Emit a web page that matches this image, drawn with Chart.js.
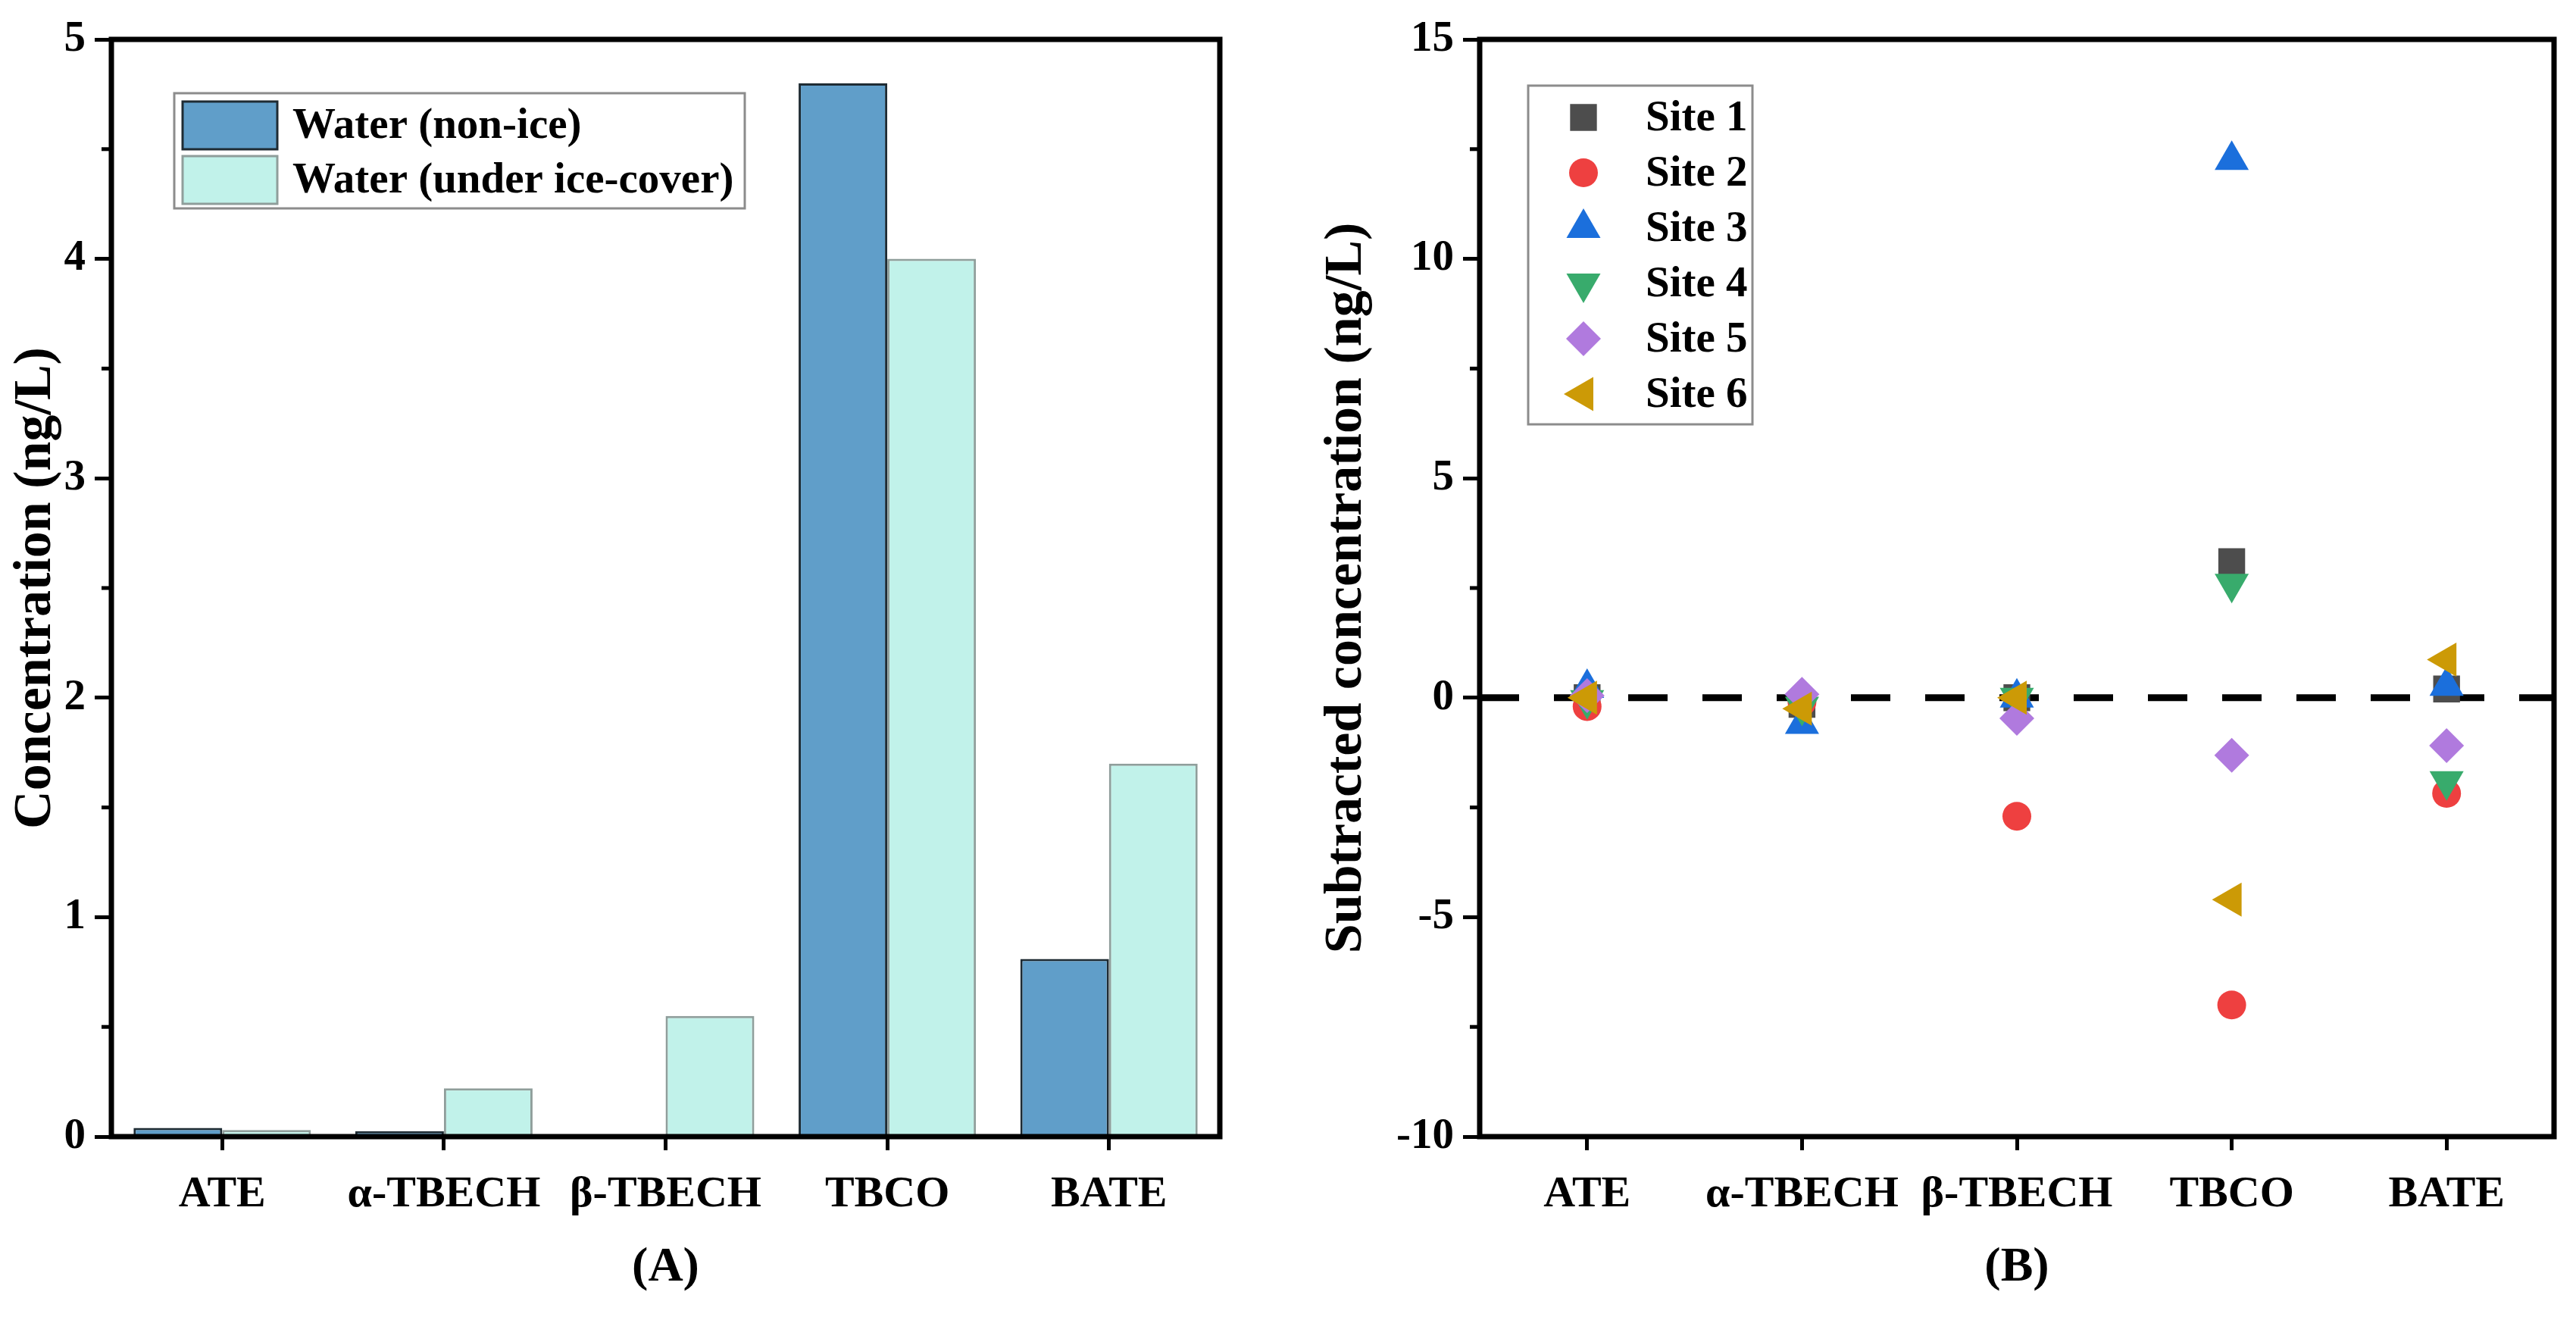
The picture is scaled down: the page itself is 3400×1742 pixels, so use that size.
<!DOCTYPE html>
<html>
<head>
<meta charset="utf-8">
<title>Concentration under ice-cover</title>
<script src="https://cdn.jsdelivr.net/npm/chart.js"></script>
<style>
  html, body { margin: 0; padding: 0; background: #fff; }
  .wrap { position: relative; width: 3400px; height: 1742px; }
  canvas { position: absolute; top: 0; }
  #chartA { left: 0; }
  #chartB { left: 1700px; }
</style>
</head>
<body>
<div class="wrap">
  <canvas id="chartA" width="1700" height="1742"></canvas>
  <canvas id="chartB" width="1700" height="1742"></canvas>
</div>
<script>
// categories
const compounds = ["ATE", "α-TBECH", "β-TBECH", "TBCO", "BATE"];

// panel A, ng/L
const waterNonIce = [0.04, 0.025, 0, 4.8, 0.81];
const waterUnderIce = [0.03, 0.22, 0.55, 4.0, 1.7];

// panel B, subtracted concentration ng/L
const site1 = [0, -0.15, 0, 3.1, 0.2];
const site2 = [-0.2, -0.1, -2.7, -7.0, -2.18];
const site3 = [0.22, -0.6, 0, 12.25, 0.27];
const site4 = [-0.05, -0.2, 0, 2.6, -1.9];
const site5 = [0.05, 0.08, -0.47, -1.31, -1.09];
const site6 = [0, -0.25, 0, -4.6, 0.87];

const FONT = '"Liberation Serif", "Times New Roman", serif';
Chart.defaults.font.family = FONT;
Chart.defaults.font.weight = "bold";
Chart.defaults.color = "#000";

// shapes for the hand drawn legend of panel B
function drawMarker(ctx, shape, rot, r, x, y) {
  ctx.save();
  ctx.translate(x, y);
  ctx.rotate(rot * Math.PI / 180);
  ctx.beginPath();
  if (shape === "circle") {
    ctx.arc(0, 0, r, 0, Math.PI * 2);
  } else if (shape === "rect") {
    const s = r * Math.SQRT1_2;
    ctx.rect(-s, -s, 2 * s, 2 * s);
  } else if (shape === "rectRot") {
    ctx.moveTo(0, -r); ctx.lineTo(r, 0); ctx.lineTo(0, r); ctx.lineTo(-r, 0);
  } else {
    ctx.moveTo(0, -r);
    ctx.lineTo(r * Math.sin(Math.PI / 3), r / 2);
    ctx.lineTo(-r * Math.sin(Math.PI / 3), r / 2);
  }
  ctx.closePath();
  ctx.fill();
  ctx.restore();
}

function frameAndMinor(chart, minorStep, majorStep) {
  const { ctx, chartArea: a } = chart;
  const y = chart.scales.y;
  ctx.save();
  ctx.strokeStyle = "#000";
  ctx.lineWidth = 5;
  for (let v = y.min + minorStep; v < y.max; v += majorStep) {
    const py = y.getPixelForValue(v);
    ctx.beginPath();
    ctx.moveTo(a.left, py);
    ctx.lineTo(a.left - 13, py);
    ctx.stroke();
  }
  ctx.lineWidth = 7;
  ctx.strokeRect(a.left, a.top, a.right - a.left, a.bottom - a.top);
  ctx.restore();
}

function axisStyle(min, max, step, titleText, titlePad) {
  return {
    min, max,
    border: { display: false },
    grid: { drawOnChartArea: false, drawTicks: true, tickLength: 22, tickWidth: 5, tickColor: "#000" },
    ticks: { stepSize: step, padding: 12, font: { size: 57 } },
    title: { display: true, text: titleText, font: { size: 70 }, padding: { top: titlePad } }
  };
}

function xStyle(titleText) {
  return {
    offset: true,
    border: { display: false },
    grid: { offset: false, drawOnChartArea: false, tickLength: 18, tickWidth: 5, tickColor: "#000" },
    ticks: { padding: 24, font: { size: 58 }, maxRotation: 0 },
    title: { display: true, text: titleText, font: { size: 64 }, padding: { bottom: 30 } },
    afterFit: (s) => { s.height = 242; }
  };
}

// ---------- panel A ----------
const yA = axisStyle(0, 5, 1, "Concentration (ng/L)", 6);
yA.afterFit = (s) => { s.width = 147; };

const legendA = {
  id: "legendA",
  afterDraw(chart) {
    const ctx = chart.ctx;
    ctx.save();
    ctx.strokeStyle = "#8c8c8c";
    ctx.lineWidth = 3;
    ctx.strokeRect(230, 123, 753, 152);
    chart.data.datasets.forEach((ds, i) => {
      const top = 134 + i * 72;
      ctx.fillStyle = ds.backgroundColor;
      ctx.fillRect(241, top, 125, 63);
      ctx.strokeStyle = ds.borderColor;
      ctx.lineWidth = 3;
      ctx.strokeRect(241, top, 125, 63);
      ctx.fillStyle = "#000";
      ctx.font = "bold 57px " + FONT;
      ctx.textBaseline = "middle";
      ctx.fillText(ds.label, 386, top + 33);
    });
    ctx.restore();
    frameAndMinor(chart, 0.5, 1);
  }
};

new Chart(document.getElementById("chartA"), {
  type: "bar",
  data: {
    labels: compounds,
    datasets: [
      { label: "Water (non-ice)", data: waterNonIce, backgroundColor: "#609ec9", borderColor: "#1e2b33", borderWidth: 3 },
      { label: "Water (under ice-cover)", data: waterUnderIce, backgroundColor: "#c1f2ea", borderColor: "#8f9e9b", borderWidth: 3 }
    ]
  },
  options: {
    responsive: false,
    devicePixelRatio: 1,
    animation: false,
    layout: { padding: { top: 52, right: 90, left: 0, bottom: 0 } },
    datasets: { bar: { categoryPercentage: 0.8, barPercentage: 1.0 } },
    plugins: { legend: { display: false }, tooltip: { enabled: false } },
    scales: { x: xStyle("(A)"), y: yA }
  },
  plugins: [legendA]
});

// ---------- panel B ----------
const yB = axisStyle(-10, 15, 5, "Subtracted concentration (ng/L)", 36);
yB.afterFit = (s) => { s.width = 253; };

const siteStyles = [
  { color: "#4d4d4d", shape: "rect", rot: 0, r: 25 },
  { color: "#ee4040", shape: "circle", rot: 0, r: 19 },
  { color: "#1b6fdc", shape: "triangle", rot: 0, r: 26 },
  { color: "#38ab6c", shape: "triangle", rot: 180, r: 26 },
  { color: "#b07ade", shape: "rectRot", rot: 0, r: 23 },
  { color: "#cc9a06", shape: "triangle", rot: -90, r: 26 }
];
const siteData = [site1, site2, site3, site4, site5, site6];

const zeroLine = {
  id: "zeroLine",
  beforeDatasetsDraw(chart) {
    const { ctx, chartArea: a } = chart;
    const py = chart.scales.y.getPixelForValue(0);
    ctx.save();
    ctx.strokeStyle = "#000";
    ctx.lineWidth = 9;
    ctx.setLineDash([52, 46]);
    ctx.beginPath();
    ctx.moveTo(a.left, py);
    ctx.lineTo(a.right, py);
    ctx.stroke();
    ctx.restore();
  }
};

const legendB = {
  id: "legendB",
  afterDraw(chart) {
    const ctx = chart.ctx;
    ctx.save();
    ctx.strokeStyle = "#8c8c8c";
    ctx.lineWidth = 3;
    ctx.strokeRect(317, 113, 296, 447);
    ctx.font = "bold 57px " + FONT;
    ctx.textBaseline = "middle";
    chart.data.datasets.forEach((ds, i) => {
      const st = siteStyles[i];
      const cy = 155 + i * 73;
      ctx.fillStyle = st.color;
      drawMarker(ctx, st.shape, st.rot, st.r, 390, cy);
      ctx.fillStyle = "#000";
      ctx.fillText(ds.label, 472, cy + 2);
    });
    ctx.restore();
    frameAndMinor(chart, 2.5, 5);
  }
};

new Chart(document.getElementById("chartB"), {
  type: "line",
  data: {
    labels: compounds,
    datasets: siteData.map((d, i) => ({
      label: "Site " + (i + 1),
      data: d,
      showLine: false,
      pointStyle: siteStyles[i].shape,
      rotation: siteStyles[i].rot,
      pointRadius: siteStyles[i].r,
      pointBackgroundColor: siteStyles[i].color,
      pointBorderColor: siteStyles[i].color,
      pointBorderWidth: 0,
      order: 6 - i
    }))
  },
  options: {
    responsive: false,
    devicePixelRatio: 1,
    animation: false,
    layout: { padding: { top: 52, right: 29, left: 0, bottom: 0 } },
    plugins: { legend: { display: false }, tooltip: { enabled: false } },
    scales: { x: xStyle("(B)"), y: yB }
  },
  plugins: [zeroLine, legendB]
});
</script>
</body>
</html>
